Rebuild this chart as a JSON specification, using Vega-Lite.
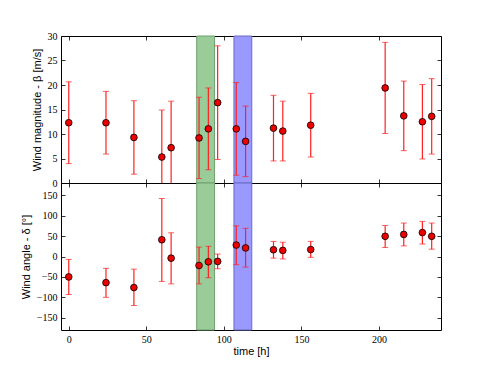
{
  "$schema": "https://vega.github.io/schema/vega-lite/v6.json",
  "background": "white",
  "padding": {"left": 19, "top": 30, "right": 5, "bottom": 5},
  "spacing": 0,
  "bounds": "flush",
  "config": {
    "view": {"stroke": "black", "strokeWidth": 1},
    "axis": {
      "grid": false,
      "domain": false,
      "tickSize": -4,
      "tickColor": "black",
      "tickWidth": 0.8,
      "labelPadding": 8,
      "labelOverlap": false,
      "labelFont": "Liberation Serif",
      "labelFontSize": 10,
      "labelColor": "black",
      "titleFont": "Liberation Sans",
      "titleFontSize": 11,
      "titleFontWeight": "normal",
      "titleColor": "black"
    }
  },
  "datasets": {
    "pts": [
      {"t": 0, "mag": 12.3, "mag_lo": 3.95, "mag_hi": 20.65, "ang": -50, "ang_lo": -93, "ang_hi": -7},
      {"t": 24, "mag": 12.3, "mag_lo": 5.9, "mag_hi": 18.7, "ang": -64, "ang_lo": -100, "ang_hi": -29},
      {"t": 42, "mag": 9.3, "mag_lo": 1.8, "mag_hi": 16.8, "ang": -76, "ang_lo": -120, "ang_hi": -31},
      {"t": 60, "mag": 5.3, "mag_lo": -4.3, "mag_hi": 14.9, "ang": 41, "ang_lo": -61, "ang_hi": 142},
      {"t": 66, "mag": 7.2, "mag_lo": -2.3, "mag_hi": 16.7, "ang": -4, "ang_lo": -67, "ang_hi": 58},
      {"t": 84, "mag": 9.2, "mag_lo": 0.9, "mag_hi": 17.5, "ang": -22, "ang_lo": -67, "ang_hi": 23},
      {"t": 90, "mag": 11.05, "mag_lo": 2.7, "mag_hi": 19.4, "ang": -13, "ang_lo": -52, "ang_hi": 25},
      {"t": 96, "mag": 16.4, "mag_lo": 4.8, "mag_hi": 28.0, "ang": -12, "ang_lo": -30, "ang_hi": 6},
      {"t": 108, "mag": 11.05, "mag_lo": 1.6, "mag_hi": 20.5, "ang": 28, "ang_lo": -20, "ang_hi": 75},
      {"t": 114, "mag": 8.5, "mag_lo": 1.3, "mag_hi": 15.7, "ang": 21, "ang_lo": -26, "ang_hi": 69},
      {"t": 132, "mag": 11.2, "mag_lo": 4.5, "mag_hi": 17.9, "ang": 16.5, "ang_lo": -4, "ang_hi": 37},
      {"t": 138, "mag": 10.6, "mag_lo": 4.5, "mag_hi": 16.7, "ang": 15, "ang_lo": -6, "ang_hi": 35},
      {"t": 156, "mag": 11.8, "mag_lo": 5.3, "mag_hi": 18.3, "ang": 17, "ang_lo": -2, "ang_hi": 37},
      {"t": 204, "mag": 19.4, "mag_lo": 10.1, "mag_hi": 28.7, "ang": 49.5, "ang_lo": 22, "ang_hi": 76},
      {"t": 216, "mag": 13.7, "mag_lo": 6.6, "mag_hi": 20.8, "ang": 54, "ang_lo": 26, "ang_hi": 82},
      {"t": 228, "mag": 12.5, "mag_lo": 4.9, "mag_hi": 20.1, "ang": 58.5, "ang_lo": 30.5, "ang_hi": 86},
      {"t": 234, "mag": 13.6, "mag_lo": 5.9, "mag_hi": 21.3, "ang": 49.5, "ang_lo": 18, "ang_hi": 82}
    ],
    "spans": [
      {"start": 82.5, "end": 94, "band": "green"},
      {"start": 106.5, "end": 118, "band": "blue"}
    ]
  },
  "vconcat": [
    {
      "width": 380,
      "height": 147,
      "resolve": {"axis": {"x": "independent", "y": "independent"}},
      "layer": [
        {
          "data": {"name": "spans"},
          "mark": {"type": "rect", "strokeWidth": 1},
          "encoding": {
            "x": {"field": "start", "type": "quantitative", "scale": {"domain": [-5, 240], "nice": false, "zero": false}, "axis": {"values": [0, 50, 100, 150, 200], "labels": false, "title": null}},
            "x2": {"field": "end"},
            "fill": {"field": "band", "type": "nominal", "scale": {"domain": ["green", "blue"], "range": ["#99cc99", "#9999ff"]}, "legend": null},
            "stroke": {"field": "band", "type": "nominal", "scale": {"domain": ["green", "blue"], "range": ["#6f9f6f", "#6b6bc4"]}, "legend": null}
          }
        },
        {
          "data": {"name": "pts"},
          "mark": {"type": "rule", "color": "#ff2020", "strokeWidth": 1.2, "clip": true},
          "encoding": {
            "x": {"field": "t", "type": "quantitative", "axis": null},
            "y": {"field": "mag_lo", "type": "quantitative", "scale": {"domain": [0, 30], "nice": false}, "axis": {"values": [0, 5, 10, 15, 20, 25, 30], "labelOverlap": false, "title": "Wind magnitude - β [m/s]", "titlePadding": 5}},
            "y2": {"field": "mag_hi"}
          }
        },
        {
          "data": {"name": "pts"},
          "mark": {"type": "tick", "orient": "horizontal", "color": "#ff2020", "size": 6, "thickness": 1, "clip": true},
          "encoding": {
            "x": {"field": "t", "type": "quantitative", "axis": null},
            "y": {"field": "mag_lo", "type": "quantitative", "axis": null}
          }
        },
        {
          "data": {"name": "pts"},
          "mark": {"type": "tick", "orient": "horizontal", "color": "#ff2020", "size": 6, "thickness": 1, "clip": true},
          "encoding": {
            "x": {"field": "t", "type": "quantitative", "axis": null},
            "y": {"field": "mag_hi", "type": "quantitative", "axis": null}
          }
        },
        {
          "data": {"name": "pts"},
          "mark": {"type": "point", "shape": "circle", "filled": true, "fill": "#ee0000", "stroke": "black", "strokeWidth": 0.8, "size": 45, "opacity": 1},
          "encoding": {
            "x": {"field": "t", "type": "quantitative", "axis": {"orient": "top", "values": [0, 50, 100, 150, 200], "labels": false, "title": null}},
            "y": {"field": "mag", "type": "quantitative", "axis": {"orient": "right", "values": [0, 5, 10, 15, 20, 25, 30], "labels": false, "title": null}}
          }
        },
        {
          "mark": {"type": "rule", "color": "#666666", "strokeWidth": 3},
          "encoding": {"y": {"datum": 0, "type": "quantitative", "axis": null}}
        }
      ]
    },
    {
      "width": 380,
      "height": 147,
      "resolve": {"axis": {"x": "independent", "y": "independent"}},
      "layer": [
        {
          "data": {"name": "spans"},
          "mark": {"type": "rect", "strokeWidth": 1},
          "encoding": {
            "x": {"field": "start", "type": "quantitative", "scale": {"domain": [-5, 240], "nice": false, "zero": false}, "axis": {"values": [0, 50, 100, 150, 200], "title": "time [h]", "titlePadding": 1}},
            "x2": {"field": "end"},
            "fill": {"field": "band", "type": "nominal", "scale": {"domain": ["green", "blue"], "range": ["#99cc99", "#9999ff"]}, "legend": null},
            "stroke": {"field": "band", "type": "nominal", "scale": {"domain": ["green", "blue"], "range": ["#6f9f6f", "#6b6bc4"]}, "legend": null}
          }
        },
        {
          "data": {"name": "pts"},
          "mark": {"type": "rule", "color": "#ff2020", "strokeWidth": 1.2, "clip": true},
          "encoding": {
            "x": {"field": "t", "type": "quantitative", "axis": null},
            "y": {"field": "ang_lo", "type": "quantitative", "scale": {"domain": [-180, 180], "nice": false}, "axis": {"values": [-150, -100, -50, 0, 50, 100, 150], "labelOverlap": false, "title": "Wind angle - δ [°]", "titlePadding": 5}},
            "y2": {"field": "ang_hi"}
          }
        },
        {
          "data": {"name": "pts"},
          "mark": {"type": "tick", "orient": "horizontal", "color": "#ff2020", "size": 6, "thickness": 1, "clip": true},
          "encoding": {
            "x": {"field": "t", "type": "quantitative", "axis": null},
            "y": {"field": "ang_lo", "type": "quantitative", "axis": null}
          }
        },
        {
          "data": {"name": "pts"},
          "mark": {"type": "tick", "orient": "horizontal", "color": "#ff2020", "size": 6, "thickness": 1, "clip": true},
          "encoding": {
            "x": {"field": "t", "type": "quantitative", "axis": null},
            "y": {"field": "ang_hi", "type": "quantitative", "axis": null}
          }
        },
        {
          "data": {"name": "pts"},
          "mark": {"type": "point", "shape": "circle", "filled": true, "fill": "#ee0000", "stroke": "black", "strokeWidth": 0.8, "size": 45, "opacity": 1},
          "encoding": {
            "x": {"field": "t", "type": "quantitative", "axis": {"orient": "top", "values": [0, 50, 100, 150, 200], "labels": false, "title": null}},
            "y": {"field": "ang", "type": "quantitative", "axis": {"orient": "right", "values": [-150, -100, -50, 0, 50, 100, 150], "labels": false, "title": null}}
          }
        },
        {
          "mark": {"type": "rule", "color": "#666666", "strokeWidth": 3},
          "encoding": {"y": {"datum": 180, "type": "quantitative", "axis": null}}
        }
      ]
    }
  ]
}
